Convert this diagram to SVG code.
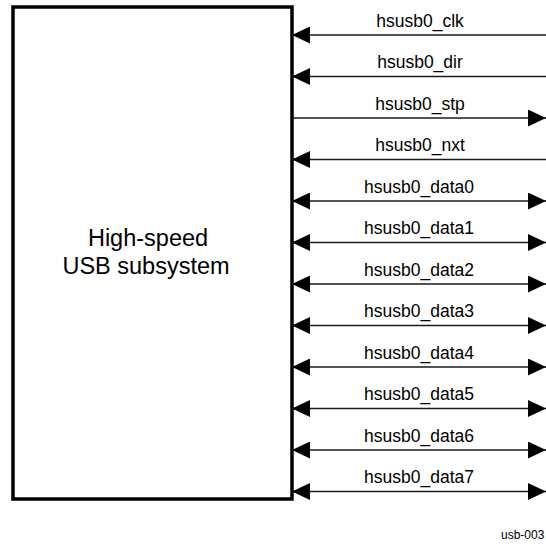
<svg xmlns="http://www.w3.org/2000/svg" width="546" height="544" viewBox="0 0 546 544">
<defs>
<style>
.box{fill:#fff;stroke:#000;stroke-width:3.5}
.ln{stroke:#1a1a1a;stroke-width:1.4;fill:none}
.lbl{font-family:"Liberation Sans",Arial,sans-serif;font-size:17.5px;fill:#000;text-anchor:middle}
.main{font-family:"Liberation Sans",Arial,sans-serif;font-size:23.5px;fill:#000;text-anchor:middle}
.note{font-family:"Liberation Sans",Arial,sans-serif;font-size:12px;fill:#000}
</style>
<marker id="ah" viewBox="0 0 18 17" refX="18" refY="8.5" markerWidth="18" markerHeight="17" markerUnits="userSpaceOnUse" orient="auto-start-reverse">
<path d="M0,0 L18,8.5 L0,17 Z" fill="#000"/>
</marker>
</defs>
<rect width="546" height="544" fill="#fff"/>
<g id="usb-subsystem">
<rect class="box" x="13" y="7" width="279" height="492"/>
<text class="main" x="148" y="246">High-speed</text>
<text class="main" x="146" y="274">USB subsystem</text>
</g>
<g id="connectors">
<line class="ln" x1="292" y1="35" x2="546" y2="35" marker-start="url(#ah)"/>
<line class="ln" x1="292" y1="76.5" x2="546" y2="76.5" marker-start="url(#ah)"/>
<line class="ln" x1="292" y1="118" x2="546" y2="118" marker-end="url(#ah)"/>
<line class="ln" x1="292" y1="159.5" x2="546" y2="159.5" marker-start="url(#ah)"/>
<line class="ln" x1="292" y1="201" x2="546" y2="201" marker-start="url(#ah)" marker-end="url(#ah)"/>
<line class="ln" x1="292" y1="242.5" x2="546" y2="242.5" marker-start="url(#ah)" marker-end="url(#ah)"/>
<line class="ln" x1="292" y1="284" x2="546" y2="284" marker-start="url(#ah)" marker-end="url(#ah)"/>
<line class="ln" x1="292" y1="325.5" x2="546" y2="325.5" marker-start="url(#ah)" marker-end="url(#ah)"/>
<line class="ln" x1="292" y1="367" x2="546" y2="367" marker-start="url(#ah)" marker-end="url(#ah)"/>
<line class="ln" x1="292" y1="408.5" x2="546" y2="408.5" marker-start="url(#ah)" marker-end="url(#ah)"/>
<line class="ln" x1="292" y1="450" x2="546" y2="450" marker-start="url(#ah)" marker-end="url(#ah)"/>
<line class="ln" x1="292" y1="491.5" x2="546" y2="491.5" marker-start="url(#ah)" marker-end="url(#ah)"/>
</g>
<g id="labels">
<text class="lbl" x="420" y="26.5">hsusb0_clk</text>
<text class="lbl" x="420" y="68">hsusb0_dir</text>
<text class="lbl" x="420" y="109.5">hsusb0_stp</text>
<text class="lbl" x="420" y="151">hsusb0_nxt</text>
<text class="lbl" x="419" y="192.5">hsusb0_data0</text>
<text class="lbl" x="419" y="234">hsusb0_data1</text>
<text class="lbl" x="419" y="275.5">hsusb0_data2</text>
<text class="lbl" x="419" y="317">hsusb0_data3</text>
<text class="lbl" x="419" y="358.5">hsusb0_data4</text>
<text class="lbl" x="419" y="400">hsusb0_data5</text>
<text class="lbl" x="419" y="441.5">hsusb0_data6</text>
<text class="lbl" x="419" y="483">hsusb0_data7</text>
</g>
<text class="note" x="501" y="539">usb-003</text>
</svg>
